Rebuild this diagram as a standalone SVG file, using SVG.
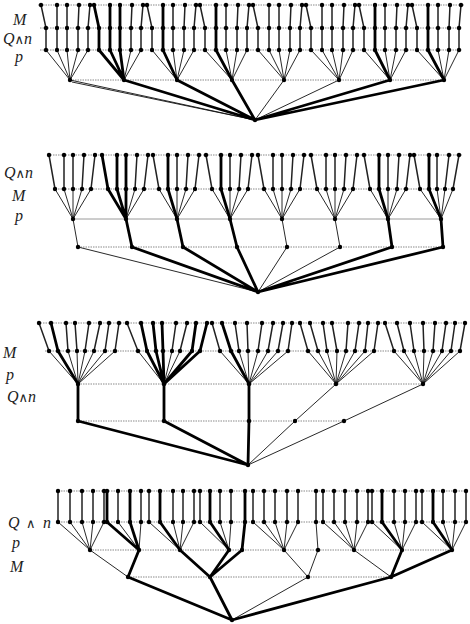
<svg xmlns="http://www.w3.org/2000/svg" width="470" height="624" viewBox="0 0 470 624">
<style>
circle{r:2.2px;fill:#000}
.t{fill:none;stroke:#111;stroke-width:0.9}
.c{fill:none;stroke:#222;stroke-width:1.5}
.b{fill:none;stroke:#000;stroke-width:2.8;stroke-linejoin:round;stroke-linecap:round}
.g{fill:none;stroke:#8a8a8a;stroke-width:1;stroke-dasharray:1.5 1}
.s{fill:none;stroke:#9a9a9a;stroke-width:1}
text{font-family:"Liberation Serif","Times New Roman",serif;font-style:italic;font-size:16px;fill:#222}
.op{font-style:normal;font-family:"DejaVu Serif",serif;font-size:13px}
</style>
<rect width="470" height="624" fill="#fff"/>
<g id="labels">
<text x="13" y="25">M</text><text x="3" y="44">Q<tspan class="op">∧</tspan>n</text><text x="15" y="62">p</text>
<text x="4" y="178">Q<tspan class="op">∧</tspan>n</text><text x="12" y="201">M</text><text x="15" y="221">p</text>
<text x="3" y="358">M</text><text x="6" y="380">p</text><text x="7" y="402">Q<tspan class="op">∧</tspan>n</text>
<text x="8" y="528">Q</text><text class="op" x="26" y="528">∧</text><text x="43" y="528">n</text><text x="12" y="548">p</text><text x="10" y="572">M</text>
</g>
<g id="guides">
<path class="g" d="M38 5H464M40 28H462M40 50H462M70 80H444"/>
<path class="g" d="M48 155H462M53 189H455M78 247H443"/><path class="s" d="M73 219H441"/>
<path class="g" d="M38 323H466M45 351H462M78 384H423M78 421H344"/>
<path class="g" d="M56 491H468M56 522H468M90 550H452M128 577H391"/>
</g>
<g id="connectors">
<path class="c" d="M41 5L46 28V50M57 5V50M67 5V50M79 5L78 28V50M90 5L88 28V50M132 5L131 28V50M143 5L141 28V50M147 5L152 28V50M173 5V50M185 5L184 28V50M196 5L194 28V50M200 5L205 28V50M226 5V50M238 5L237 28V50M249 5L247 28V50M253 5L258 28V50M269 5V50M279 5V50M291 5L290 28V50M302 5L300 28V50M306 5L311 28V50M322 5V50M332 5V50M344 5L343 28V50M355 5L353 28V50M359 5L364 28V50M385 5V50M397 5L396 28V50M408 5L406 28V50M412 5L417 28V50M438 5V50M450 5L449 28V50M461 5L459 28V50"/>
<path class="t" d="M46 50L70 80L57 50M67 50L70 80L78 50M88 50L70 80M131 50L124 80L141 50M152 50L177 80L173 50M184 50L177 80L194 50M205 50L232 80L226 50M237 50L232 80L247 50M258 50L284 80L269 50M279 50L284 80L290 50M300 50L284 80M311 50L339 80L322 50M332 50L339 80L343 50M353 50L339 80M364 50L390 80L385 50M396 50L390 80L406 50M417 50L444 80L438 50M449 50L444 80L459 50M70 80L255 120L284 80M339 80L255 120M72 82L255 120"/>
<path class="b" d="M94 5L99 28V50L124 80M110 5V50L124 80M120 5V50L124 80M163 5V50L177 80M216 5V50L232 80M375 5V50L390 80M428 5V50L444 80M124 80L255 120L177 80M232 80L255 120L390 80M444 80L255 120"/>
<path class="c" d="M49 155L55 189M64 155V189M73 155V189M84 155L82 189M95 155L91 189M137 155L135 189M148 155L144 189M153 155L159 189M177 155V189M188 155L186 189M199 155L195 189M206 155L212 189M230 155V189M241 155L239 189M252 155L248 189M258 155L264 189M273 155V189M282 155V189M293 155L291 189M304 155L300 189M311 155L317 189M326 155V189M335 155V189M346 155L344 189M357 155L353 189M364 155L370 189M388 155V189M399 155L397 189M410 155L406 189M414 155L420 189M437 155V189M449 155L445 189M459 155L453 189"/>
<path class="t" d="M55 189L73 219L64 189M73 189V219L82 189M91 189L73 219L78 247M135 189L126 219L144 189M159 189L177 219V189M186 189L177 219L195 189M212 189L230 219V189M239 189L230 219L248 189M264 189L282 219L273 189M282 189V219L291 189M300 189L282 219L287 247M317 189L335 219L326 189M335 189V219L344 189M353 189L335 219L340 247M370 189L388 219V189M397 189L388 219L406 189M420 189L441 219L437 189M445 189L441 219L453 189M78 247L258 292L287 247M340 247L258 292"/>
<path class="b" d="M102 155L108 189L126 219M117 155V189L126 219M126 155V219L132 247M168 155V189L177 219L183 247M221 155V189L230 219L237 247M379 155V189L388 219L392 247M429 155V189L441 219L443 247M132 247L258 292L183 247M237 247L258 292L392 247M443 247L258 292"/>
<path class="c" d="M39 323L49 351M66 323L68 351M75 323L77 351M89 323L85 351M100 323L94 351M109 323L105 351M119 323L115 351M127 323L138 351M176 323L172 351M187 323L180 351M212 323L220 351M235 323L239 351M247 323L248 351M262 323L258 351M273 323L268 351M283 323L278 351M292 323L288 351M300 323L308 351M310 323L318 351M323 323L327 351M332 323L337 351M348 323L346 351M359 323L355 351M368 323L365 351M378 323L374 351M385 323L394 351M397 323L404 351M410 323L414 351M423 323L424 351M435 323L433 351M446 323L442 351M455 323L451 351M465 323L460 351"/>
<path class="t" d="M49 351L78 384L68 351M77 351L78 384L85 351M94 351L78 384L105 351M115 351L78 384M138 351L164 384L172 351M180 351L164 384M220 351L249 384L239 351M248 351L249 384L258 351M268 351L249 384L278 351M288 351L249 384M308 351L336 384L318 351M327 351L336 384L337 351M346 351L336 384L355 351M365 351L336 384L374 351M394 351L423 384L404 351M414 351L423 384L424 351M433 351L423 384L442 351M451 351L423 384L460 351M336 384L295 421L248 465M423 384L344 421L248 465"/>
<path class="b" d="M51 323L58 351L78 384V421L248 465M141 323L147 351L164 384M153 323L156 351L164 384M162 323L163 351L164 384V421L248 465M196 323L192 351L164 384M207 323L200 351L164 384M222 323L231 351L249 384V421L248 465"/>
<path class="c" d="M58 491V522M70 491V522M82 491V522M93 491V522M104 491V522M118 491V522M141 491V522M149 491V522M173 491V522M183 491V522M194 491V522M200 491V522M220 491V522M231 491V522M253 491V522M264 491V522M275 491V522M287 491V522M298 491V522M316 491V522M323 491V522M334 491V522M345 491V522M357 491V522M368 491V522M372 491V522M394 491V522M405 491V522M416 491V522M422 491V522M443 491V522M455 491V522M466 491V522"/>
<path class="t" d="M58 522L90 550L70 522M82 522L90 550L93 522M104 522L90 550L128 577M118 522L139 550L141 522M149 522L180 550L173 522M183 522L180 550L194 522M200 522L229 550L220 522M231 522L229 550M253 522L284 550L264 522M275 522L284 550L287 522M298 522L284 550L308 577L232 620M316 522L318 550L308 577M323 522L354 550L334 522M345 522L354 550L357 522M368 522L354 550L391 577M372 522L402 550L394 522M405 522L402 550L416 522M422 522L452 550L443 522M455 522L452 550L466 522"/>
<path class="b" d="M107 491V522L139 550L128 577L232 620M130 491V522L139 550M160 491V522L180 550L210 577L232 620M210 491V522L229 550L210 577M245 491V522L242 550L210 577M382 491V522L402 550L391 577L232 620M433 491V522L452 550L391 577"/>
</g>
<g id="tree1">
<g id="t1-root"><circle cx="255" cy="120"/></g>
<g id="t1-c1"><circle cx="70" cy="80"/><circle cx="41" cy="5"/><circle cx="57" cy="5"/><circle cx="67" cy="5"/><circle cx="79" cy="5"/><circle cx="90" cy="5"/><circle cx="46" cy="28"/><circle cx="57" cy="28"/><circle cx="67" cy="28"/><circle cx="78" cy="28"/><circle cx="88" cy="28"/><circle cx="46" cy="50"/><circle cx="57" cy="50"/><circle cx="67" cy="50"/><circle cx="78" cy="50"/><circle cx="88" cy="50"/></g>
<g id="t1-c2"><circle cx="124" cy="80"/><circle cx="94" cy="5"/><circle cx="110" cy="5"/><circle cx="120" cy="5"/><circle cx="132" cy="5"/><circle cx="143" cy="5"/><circle cx="99" cy="28"/><circle cx="110" cy="28"/><circle cx="120" cy="28"/><circle cx="131" cy="28"/><circle cx="141" cy="28"/><circle cx="99" cy="50"/><circle cx="110" cy="50"/><circle cx="120" cy="50"/><circle cx="131" cy="50"/><circle cx="141" cy="50"/></g>
<g id="t1-c3"><circle cx="177" cy="80"/><circle cx="147" cy="5"/><circle cx="163" cy="5"/><circle cx="173" cy="5"/><circle cx="185" cy="5"/><circle cx="196" cy="5"/><circle cx="152" cy="28"/><circle cx="163" cy="28"/><circle cx="173" cy="28"/><circle cx="184" cy="28"/><circle cx="194" cy="28"/><circle cx="152" cy="50"/><circle cx="163" cy="50"/><circle cx="173" cy="50"/><circle cx="184" cy="50"/><circle cx="194" cy="50"/></g>
<g id="t1-c4"><circle cx="232" cy="80"/><circle cx="200" cy="5"/><circle cx="216" cy="5"/><circle cx="226" cy="5"/><circle cx="238" cy="5"/><circle cx="249" cy="5"/><circle cx="205" cy="28"/><circle cx="216" cy="28"/><circle cx="226" cy="28"/><circle cx="237" cy="28"/><circle cx="247" cy="28"/><circle cx="205" cy="50"/><circle cx="216" cy="50"/><circle cx="226" cy="50"/><circle cx="237" cy="50"/><circle cx="247" cy="50"/></g>
<g id="t1-c5"><circle cx="284" cy="80"/><circle cx="253" cy="5"/><circle cx="269" cy="5"/><circle cx="279" cy="5"/><circle cx="291" cy="5"/><circle cx="302" cy="5"/><circle cx="258" cy="28"/><circle cx="269" cy="28"/><circle cx="279" cy="28"/><circle cx="290" cy="28"/><circle cx="300" cy="28"/><circle cx="258" cy="50"/><circle cx="269" cy="50"/><circle cx="279" cy="50"/><circle cx="290" cy="50"/><circle cx="300" cy="50"/></g>
<g id="t1-c6"><circle cx="339" cy="80"/><circle cx="306" cy="5"/><circle cx="322" cy="5"/><circle cx="332" cy="5"/><circle cx="344" cy="5"/><circle cx="355" cy="5"/><circle cx="311" cy="28"/><circle cx="322" cy="28"/><circle cx="332" cy="28"/><circle cx="343" cy="28"/><circle cx="353" cy="28"/><circle cx="311" cy="50"/><circle cx="322" cy="50"/><circle cx="332" cy="50"/><circle cx="343" cy="50"/><circle cx="353" cy="50"/></g>
<g id="t1-c7"><circle cx="390" cy="80"/><circle cx="359" cy="5"/><circle cx="375" cy="5"/><circle cx="385" cy="5"/><circle cx="397" cy="5"/><circle cx="408" cy="5"/><circle cx="364" cy="28"/><circle cx="375" cy="28"/><circle cx="385" cy="28"/><circle cx="396" cy="28"/><circle cx="406" cy="28"/><circle cx="364" cy="50"/><circle cx="375" cy="50"/><circle cx="385" cy="50"/><circle cx="396" cy="50"/><circle cx="406" cy="50"/></g>
<g id="t1-c8"><circle cx="444" cy="80"/><circle cx="412" cy="5"/><circle cx="428" cy="5"/><circle cx="438" cy="5"/><circle cx="450" cy="5"/><circle cx="461" cy="5"/><circle cx="417" cy="28"/><circle cx="428" cy="28"/><circle cx="438" cy="28"/><circle cx="449" cy="28"/><circle cx="459" cy="28"/><circle cx="417" cy="50"/><circle cx="428" cy="50"/><circle cx="438" cy="50"/><circle cx="449" cy="50"/><circle cx="459" cy="50"/></g>
</g>
<g id="tree2">
<g id="t2-root"><circle cx="258" cy="292"/></g>
<g id="t2-c1"><circle cx="78" cy="247"/><circle cx="73" cy="219"/><circle cx="49" cy="155"/><circle cx="64" cy="155"/><circle cx="73" cy="155"/><circle cx="84" cy="155"/><circle cx="95" cy="155"/><circle cx="55" cy="189"/><circle cx="64" cy="189"/><circle cx="73" cy="189"/><circle cx="82" cy="189"/><circle cx="91" cy="189"/></g>
<g id="t2-c2"><circle cx="132" cy="247"/><circle cx="126" cy="219"/><circle cx="102" cy="155"/><circle cx="117" cy="155"/><circle cx="126" cy="155"/><circle cx="137" cy="155"/><circle cx="148" cy="155"/><circle cx="108" cy="189"/><circle cx="117" cy="189"/><circle cx="126" cy="189"/><circle cx="135" cy="189"/><circle cx="144" cy="189"/></g>
<g id="t2-c3"><circle cx="183" cy="247"/><circle cx="177" cy="219"/><circle cx="153" cy="155"/><circle cx="168" cy="155"/><circle cx="177" cy="155"/><circle cx="188" cy="155"/><circle cx="199" cy="155"/><circle cx="159" cy="189"/><circle cx="168" cy="189"/><circle cx="177" cy="189"/><circle cx="186" cy="189"/><circle cx="195" cy="189"/></g>
<g id="t2-c4"><circle cx="237" cy="247"/><circle cx="230" cy="219"/><circle cx="206" cy="155"/><circle cx="221" cy="155"/><circle cx="230" cy="155"/><circle cx="241" cy="155"/><circle cx="252" cy="155"/><circle cx="212" cy="189"/><circle cx="221" cy="189"/><circle cx="230" cy="189"/><circle cx="239" cy="189"/><circle cx="248" cy="189"/></g>
<g id="t2-c5"><circle cx="287" cy="247"/><circle cx="282" cy="219"/><circle cx="258" cy="155"/><circle cx="273" cy="155"/><circle cx="282" cy="155"/><circle cx="293" cy="155"/><circle cx="304" cy="155"/><circle cx="264" cy="189"/><circle cx="273" cy="189"/><circle cx="282" cy="189"/><circle cx="291" cy="189"/><circle cx="300" cy="189"/></g>
<g id="t2-c6"><circle cx="340" cy="247"/><circle cx="335" cy="219"/><circle cx="311" cy="155"/><circle cx="326" cy="155"/><circle cx="335" cy="155"/><circle cx="346" cy="155"/><circle cx="357" cy="155"/><circle cx="317" cy="189"/><circle cx="326" cy="189"/><circle cx="335" cy="189"/><circle cx="344" cy="189"/><circle cx="353" cy="189"/></g>
<g id="t2-c7"><circle cx="392" cy="247"/><circle cx="388" cy="219"/><circle cx="364" cy="155"/><circle cx="379" cy="155"/><circle cx="388" cy="155"/><circle cx="399" cy="155"/><circle cx="410" cy="155"/><circle cx="370" cy="189"/><circle cx="379" cy="189"/><circle cx="388" cy="189"/><circle cx="397" cy="189"/><circle cx="406" cy="189"/></g>
<g id="t2-c8"><circle cx="443" cy="247"/><circle cx="441" cy="219"/><circle cx="414" cy="155"/><circle cx="429" cy="155"/><circle cx="437" cy="155"/><circle cx="449" cy="155"/><circle cx="459" cy="155"/><circle cx="420" cy="189"/><circle cx="429" cy="189"/><circle cx="437" cy="189"/><circle cx="445" cy="189"/><circle cx="453" cy="189"/></g>
</g>
<g id="tree3">
<g id="t3-root"><circle cx="248" cy="465"/></g>
<g id="t3-c1"><circle cx="78" cy="421"/><circle cx="78" cy="384"/><circle cx="39" cy="323"/><circle cx="51" cy="323"/><circle cx="66" cy="323"/><circle cx="75" cy="323"/><circle cx="89" cy="323"/><circle cx="100" cy="323"/><circle cx="109" cy="323"/><circle cx="119" cy="323"/><circle cx="49" cy="351"/><circle cx="58" cy="351"/><circle cx="68" cy="351"/><circle cx="77" cy="351"/><circle cx="85" cy="351"/><circle cx="94" cy="351"/><circle cx="105" cy="351"/><circle cx="115" cy="351"/></g>
<g id="t3-c2"><circle cx="164" cy="421"/><circle cx="164" cy="384"/><circle cx="127" cy="323"/><circle cx="141" cy="323"/><circle cx="153" cy="323"/><circle cx="162" cy="323"/><circle cx="176" cy="323"/><circle cx="187" cy="323"/><circle cx="196" cy="323"/><circle cx="207" cy="323"/><circle cx="138" cy="351"/><circle cx="147" cy="351"/><circle cx="156" cy="351"/><circle cx="163" cy="351"/><circle cx="172" cy="351"/><circle cx="180" cy="351"/><circle cx="192" cy="351"/><circle cx="200" cy="351"/></g>
<g id="t3-c3"><circle cx="249" cy="421"/><circle cx="249" cy="384"/><circle cx="212" cy="323"/><circle cx="222" cy="323"/><circle cx="235" cy="323"/><circle cx="247" cy="323"/><circle cx="262" cy="323"/><circle cx="273" cy="323"/><circle cx="283" cy="323"/><circle cx="292" cy="323"/><circle cx="220" cy="351"/><circle cx="231" cy="351"/><circle cx="239" cy="351"/><circle cx="248" cy="351"/><circle cx="258" cy="351"/><circle cx="268" cy="351"/><circle cx="278" cy="351"/><circle cx="288" cy="351"/></g>
<g id="t3-c4"><circle cx="295" cy="421"/><circle cx="336" cy="384"/><circle cx="300" cy="323"/><circle cx="310" cy="323"/><circle cx="323" cy="323"/><circle cx="332" cy="323"/><circle cx="348" cy="323"/><circle cx="359" cy="323"/><circle cx="368" cy="323"/><circle cx="378" cy="323"/><circle cx="308" cy="351"/><circle cx="318" cy="351"/><circle cx="327" cy="351"/><circle cx="337" cy="351"/><circle cx="346" cy="351"/><circle cx="355" cy="351"/><circle cx="365" cy="351"/><circle cx="374" cy="351"/></g>
<g id="t3-c5"><circle cx="344" cy="421"/><circle cx="423" cy="384"/><circle cx="385" cy="323"/><circle cx="397" cy="323"/><circle cx="410" cy="323"/><circle cx="423" cy="323"/><circle cx="435" cy="323"/><circle cx="446" cy="323"/><circle cx="455" cy="323"/><circle cx="465" cy="323"/><circle cx="394" cy="351"/><circle cx="404" cy="351"/><circle cx="414" cy="351"/><circle cx="424" cy="351"/><circle cx="433" cy="351"/><circle cx="442" cy="351"/><circle cx="451" cy="351"/><circle cx="460" cy="351"/></g>
</g>
<g id="tree4">
<g id="t4-root"><circle cx="232" cy="620"/></g>
<g id="t4-m"><circle cx="128" cy="577"/><circle cx="210" cy="577"/><circle cx="308" cy="577"/><circle cx="391" cy="577"/></g>
<g id="t4-p"><circle cx="90" cy="550"/><circle cx="139" cy="550"/><circle cx="180" cy="550"/><circle cx="229" cy="550"/><circle cx="242" cy="550"/><circle cx="284" cy="550"/><circle cx="318" cy="550"/><circle cx="354" cy="550"/><circle cx="402" cy="550"/><circle cx="452" cy="550"/></g>
<g id="t4-top"><circle cx="58" cy="491"/><circle cx="70" cy="491"/><circle cx="82" cy="491"/><circle cx="93" cy="491"/><circle cx="104" cy="491"/><circle cx="107" cy="491"/><circle cx="118" cy="491"/><circle cx="130" cy="491"/><circle cx="141" cy="491"/><circle cx="149" cy="491"/><circle cx="160" cy="491"/><circle cx="173" cy="491"/><circle cx="183" cy="491"/><circle cx="194" cy="491"/><circle cx="200" cy="491"/><circle cx="210" cy="491"/><circle cx="220" cy="491"/><circle cx="231" cy="491"/><circle cx="245" cy="491"/><circle cx="253" cy="491"/><circle cx="264" cy="491"/><circle cx="275" cy="491"/><circle cx="287" cy="491"/><circle cx="298" cy="491"/><circle cx="316" cy="491"/><circle cx="323" cy="491"/><circle cx="334" cy="491"/><circle cx="345" cy="491"/><circle cx="357" cy="491"/><circle cx="368" cy="491"/><circle cx="372" cy="491"/><circle cx="382" cy="491"/><circle cx="394" cy="491"/><circle cx="405" cy="491"/><circle cx="416" cy="491"/><circle cx="422" cy="491"/><circle cx="433" cy="491"/><circle cx="443" cy="491"/><circle cx="455" cy="491"/><circle cx="466" cy="491"/></g>
<g id="t4-mid"><circle cx="58" cy="522"/><circle cx="70" cy="522"/><circle cx="82" cy="522"/><circle cx="93" cy="522"/><circle cx="104" cy="522"/><circle cx="107" cy="522"/><circle cx="118" cy="522"/><circle cx="130" cy="522"/><circle cx="141" cy="522"/><circle cx="149" cy="522"/><circle cx="160" cy="522"/><circle cx="173" cy="522"/><circle cx="183" cy="522"/><circle cx="194" cy="522"/><circle cx="200" cy="522"/><circle cx="210" cy="522"/><circle cx="220" cy="522"/><circle cx="231" cy="522"/><circle cx="245" cy="522"/><circle cx="253" cy="522"/><circle cx="264" cy="522"/><circle cx="275" cy="522"/><circle cx="287" cy="522"/><circle cx="298" cy="522"/><circle cx="316" cy="522"/><circle cx="323" cy="522"/><circle cx="334" cy="522"/><circle cx="345" cy="522"/><circle cx="357" cy="522"/><circle cx="368" cy="522"/><circle cx="372" cy="522"/><circle cx="382" cy="522"/><circle cx="394" cy="522"/><circle cx="405" cy="522"/><circle cx="416" cy="522"/><circle cx="422" cy="522"/><circle cx="433" cy="522"/><circle cx="443" cy="522"/><circle cx="455" cy="522"/><circle cx="466" cy="522"/></g>
</g>
</svg>
